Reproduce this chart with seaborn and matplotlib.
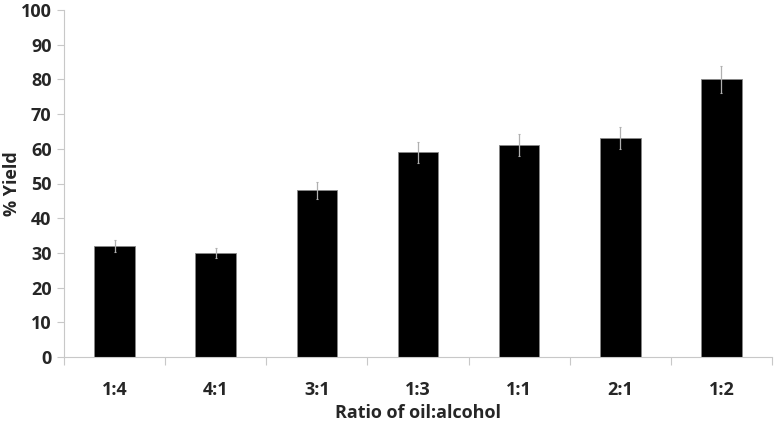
import pandas as pd
import matplotlib
matplotlib.use("Agg")
import matplotlib.pyplot as plt
import seaborn as sns

# data
ratios = ["1:4", "4:1", "3:1", "1:3", "1:1", "2:1", "1:2"]
yields = [32, 30, 48, 59, 61, 63, 80]
errors = [1.6, 1.5, 2.5, 3.0, 3.2, 3.2, 4.0]

sns.set_style("white")
plt.rcParams['font.family'] = ['Open Sans', 'DejaVu Sans']
plt.rcParams['font.weight'] = 'bold'

df = pd.DataFrame({"ratio": ratios, "yield": yields})

fig = plt.figure(figsize=(7.74, 4.22), dpi=100)
ax = fig.add_axes([64 / 774, 1 - 357 / 422, (772 - 64) / 774, (357 - 10) / 422])

sns.barplot(data=df, x="ratio", y="yield", color="black", width=0.4,
            edgecolor="#888888", linewidth=0.6, ax=ax)
ax.errorbar(range(len(ratios)), yields, yerr=errors, fmt="none",
            ecolor="#b0b0b0", elinewidth=0.9, capsize=1, capthick=0.8)

ax.set_xlim(-0.5, len(ratios) - 0.5)
ax.set_ylim(0, 100)
ax.set_yticks(range(0, 101, 10))

# Excel style: x ticks sit between categories
ax.set_xticks([i - 0.5 for i in range(len(ratios) + 1)], minor=True)
ax.tick_params(axis="x", which="major", length=0, pad=17, labelsize=13)
ax.tick_params(axis="x", which="minor", length=6, color="#c8c8c8", width=0.8, direction="out")
ax.tick_params(axis="y", length=5, color="#c8c8c8", width=0.8, direction="out", pad=4, labelsize=13)
ax.yaxis.set_ticks_position("left")
ax.xaxis.set_ticks_position("bottom")
for lab in ax.get_xticklabels() + ax.get_yticklabels():
    lab.set_fontweight("bold")

for side in ["top", "right"]:
    ax.spines[side].set_visible(False)
for side in ["left", "bottom"]:
    ax.spines[side].set_color("#c8c8c8")
    ax.spines[side].set_linewidth(0.8)

ax.set_xlabel("Ratio of oil:alcohol", fontsize=13, fontweight="bold", labelpad=4)
ax.set_ylabel("% Yield", fontsize=13, fontweight="bold")
ax.yaxis.set_label_coords(-0.061, 0.5)

fig.savefig("out.png", dpi=100)
